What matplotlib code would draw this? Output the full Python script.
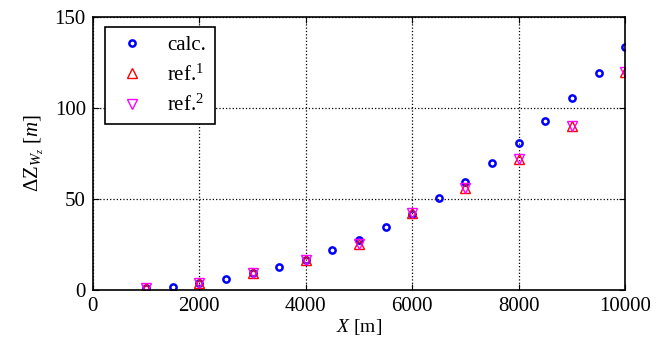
import matplotlib
matplotlib.use("Agg")
import matplotlib.pyplot as plt

plt.rcParams['font.family'] = 'Liberation Serif'
plt.rcParams['mathtext.fontset'] = 'custom'
plt.rcParams['mathtext.rm'] = 'Liberation Serif'
plt.rcParams['mathtext.it'] = 'Liberation Serif:italic'

calc_x = [1000, 1500, 2000, 2500, 3000, 3500, 4000, 4500, 5000, 5500,
          6000, 6500, 7000, 7500, 8000, 8500, 9000, 9500, 10000]
calc_y = [1.0, 1.8, 4.0, 6.2, 9.5, 12.5, 16.5, 22.0, 27.5, 34.5,
          42.0, 50.5, 59.5, 69.5, 81.0, 93.0, 105.5, 119.0, 133.5]
ref_x = [1000, 2000, 3000, 4000, 5000, 6000, 7000, 8000, 9000, 10000]
ref1_y = [1.0, 4.0, 9.5, 16.5, 25.0, 42.5, 56.0, 72.0, 90.0, 120.0]
ref2_y = [1.0, 4.0, 9.5, 16.5, 25.0, 42.5, 56.0, 72.0, 90.0, 120.0]

fig = plt.figure(figsize=(6.63, 3.38), dpi=100)
ax = fig.add_axes([0.140, 0.142, 0.803, 0.808])

ax.plot(calc_x, calc_y, 'o', ls='none', mfc='none', mec='blue', mew=1.8, ms=4.5, label='calc.')
ax.plot(ref_x, ref1_y, '^', ls='none', mfc='none', mec='red', mew=1.0, ms=7.5, label='ref.$^1$')
ax.plot(ref_x, ref2_y, 'v', ls='none', mfc='none', mec='magenta', mew=1.0, ms=7.5, label='ref.$^2$')

ax.set_xlim(0, 10000)
ax.set_ylim(0, 150)
ax.set_xticks([0, 2000, 4000, 6000, 8000, 10000])
ax.set_yticks([0, 50, 100, 150])
ax.grid(True, color='black', linestyle=':', linewidth=0.9)
ax.tick_params(direction='in', top=True, right=True, labelsize=15, length=4, pad=5)
for s in ax.spines.values():
    s.set_linewidth(1.2)

ax.set_xlabel('$X$ [m]', fontsize=14, labelpad=1)
ax.set_ylabel(r'$\Delta\mathrm{Z}_{W_z}$ $[m]$', fontsize=15, labelpad=6)

leg = ax.legend(loc='upper left', fontsize=15, frameon=True, fancybox=False,
                edgecolor='black', framealpha=1, handletextpad=0.8,
                handlelength=1.8, borderpad=0.4, labelspacing=0.45,
                bbox_to_anchor=(0.0226, 0.963), borderaxespad=0)
leg.get_frame().set_linewidth(1.2)

fig.savefig('out.png', dpi=100)
